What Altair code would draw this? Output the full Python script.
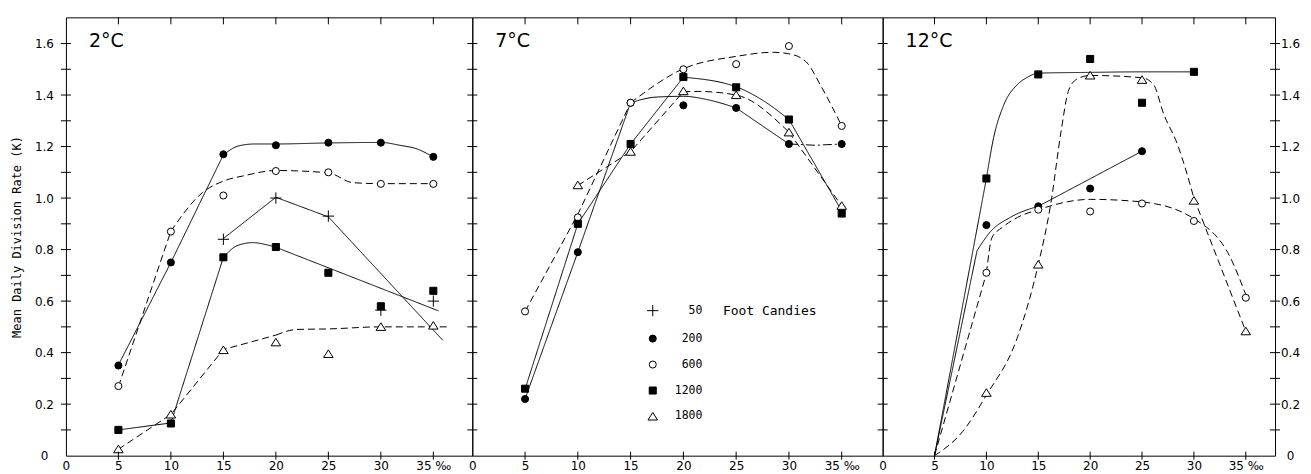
import altair as alt
import pandas as pd

FONT = "DejaVu Sans Mono"
FONT_TICK = "DejaVu Sans"
FONT_BIG = "DejaVu Sans"

SAL = [5, 10, 15, 20, 25, 30, 35]
FC = ["50", "200", "600", "1200", "1800"]
X_LABELS = [0, 5, 10, 15, 20, 25, 30, 35]
X_TICKS = [5, 10, 15, 20, 25, 30, 35]
Y_LABELS = [0, 0.2, 0.4, 0.6, 0.8, 1.0, 1.2, 1.4, 1.6]
Y_MINOR = [0.1, 0.2, 0.3, 0.4, 0.5, 0.6, 0.7, 0.8, 0.9, 1.0, 1.1, 1.2, 1.3, 1.4, 1.5, 1.6]
YMAX = 1.7016

# ---- measured points: 2 °C
T2_50 = [None, None, 0.84, 1.00, 0.93, 0.565, 0.60]
T2_200 = [0.35, 0.75, 1.17, 1.205, 1.215, 1.215, 1.16]
T2_600 = [0.27, 0.87, 1.01, 1.105, 1.10, 1.055, 1.055]
T2_1200 = [0.10, 0.125, 0.77, 0.81, 0.71, 0.58, 0.64]
T2_1800 = [0.025, 0.16, 0.41, 0.44, 0.395, 0.50, 0.505]
# ---- 7 °C
T7_200 = [0.22, 0.79, 1.37, 1.36, 1.35, 1.21, 1.21]
T7_600 = [0.56, 0.925, 1.37, 1.50, 1.52, 1.59, 1.28]
T7_1200 = [0.26, 0.90, 1.21, 1.47, 1.43, 1.305, 0.94]
T7_1800 = [None, 1.05, 1.18, 1.415, 1.40, 1.255, 0.97]
# ---- 12 °C
T12_200 = [None, 0.895, 0.968, 1.037, 1.182, None, None]
T12_600 = [None, 0.71, 0.955, 0.948, 0.979, 0.911, 0.613]
T12_1200 = [None, 1.076, 1.48, 1.54, 1.37, 1.49, None]
T12_1800 = [None, 0.244, 0.742, 1.476, 1.459, 0.99, 0.483]

# ---- hand-fitted curves: (series, dash, interpolation, xs, ys)
C2 = [
    ("50", "solid", "linear", [15, 20, 25, 35.9], [0.843, 1.003, 0.927, 0.448]),
    ("200", "solid", "linear", [5, 10, 15], [0.352, 0.75, 1.168]),
    ("200", "solid", "monotone", [15, 16.5, 18, 20, 25, 30, 31.8, 33.5, 35],
     [1.168, 1.203, 1.21, 1.21, 1.214, 1.216, 1.205, 1.19, 1.159]),
    ("600", "dashed", "linear", [5, 10], [0.268, 0.872]),
    ("600", "dashed", "monotone", [10, 13, 15, 17, 20, 25, 27.3, 30, 35],
     [0.872, 1.021, 1.066, 1.087, 1.107, 1.098, 1.06, 1.056, 1.056]),
    ("1200", "solid", "linear", [5, 10, 15], [0.10, 0.127, 0.77]),
    ("1200", "solid", "monotone", [15, 16.3, 17.8, 19, 20], [0.77, 0.815, 0.827, 0.82, 0.809]),
    ("1200", "solid", "linear", [20, 35.5], [0.809, 0.562]),
    ("1800", "dashed", "linear", [5, 10, 15, 20], [0.025, 0.16, 0.412, 0.468]),
    ("1800", "dashed", "monotone", [20, 22, 25, 30, 36.3], [0.468, 0.49, 0.492, 0.50, 0.50]),
]
C7 = [
    ("200", "solid", "linear", [5, 10, 15], [0.22, 0.79, 1.37]),
    ("200", "solid", "monotone", [15, 17.4, 20, 22.5, 25], [1.37, 1.392, 1.395, 1.38, 1.35]),
    ("200", "solid", "linear", [25, 30], [1.35, 1.21]),
    ("200", "dashdot", "linear", [30, 32.5, 35], [1.21, 1.205, 1.21]),
    ("600", "dashed", "linear", [5, 10, 15], [0.56, 0.937, 1.37]),
    ("600", "dashed", "monotone", [15, 20, 25, 28.5, 30, 31.6, 33.1, 35],
     [1.37, 1.502, 1.55, 1.566, 1.56, 1.53, 1.43, 1.28]),
    ("1200", "solid", "linear", [5, 10, 15, 20], [0.258, 0.90, 1.21, 1.469]),
    ("1200", "solid", "monotone", [20, 25, 27.5, 30], [1.469, 1.432, 1.38, 1.305]),
    ("1200", "solid", "linear", [30, 35], [1.305, 0.95]),
    ("1800", "dashed", "linear", [10, 15, 20], [1.049, 1.18, 1.413]),
    ("1800", "dashed", "monotone", [20, 21.4, 25, 30], [1.413, 1.414, 1.40, 1.256]),
    ("1800", "dashed", "linear", [30, 35], [1.256, 0.97]),
]
C12 = [
    ("1200", "solid", "linear", [5, 10], [0.0, 1.076]),
    ("1200", "solid", "monotone", [10, 10.7, 11.7, 13, 14, 15, 20, 25, 30],
     [1.076, 1.235, 1.364, 1.441, 1.47, 1.485, 1.488, 1.49, 1.49]),
    ("200", "solid", "linear", [5, 9.1], [0.0, 0.796]),
    ("200", "solid", "monotone", [9.1, 10.4, 12.3, 15], [0.796, 0.87, 0.925, 0.968]),
    ("200", "solid", "linear", [15, 25], [0.968, 1.182]),
    ("600", "dashed", "linear", [5, 10], [0.0, 0.708]),
    ("600", "dashed", "monotone", [10, 10.55, 11.5, 13, 15, 20, 25, 30, 33.5, 35],
     [0.708, 0.848, 0.885, 0.925, 0.955, 0.995, 0.985, 0.92, 0.77, 0.625]),
    ("1800", "dashed", "monotone",
     [5, 7.7, 10, 13, 15, 16.2, 17.2, 17.9, 18.7, 20, 25, 26.1, 27.1, 28.4, 30],
     [0.0, 0.093, 0.235, 0.46, 0.742, 0.977, 1.26, 1.415, 1.461, 1.476, 1.467, 1.441, 1.325, 1.21, 1.0]),
    ("1800", "dashed", "linear", [30, 35], [1.0, 0.483]),
]

PLUS = "M-1.6,0L1.6,0M0,-1.6L0,1.6"
TRIANGLE = "M0,-1.15L1.35,1.0L-1.35,1.0Z"


def points_df(series):
    rows = []
    for fc, ys in series.items():
        for x, y in zip(SAL, ys):
            if y is not None:
                rows.append({"x": x, "y": y, "fc": fc})
    return pd.DataFrame(rows)


def curves_df(curves):
    rows = []
    for i, (fc, dash, interp, xs, ys) in enumerate(curves):
        for x, y in zip(xs, ys):
            rows.append({"seg": f"{fc}-{i}", "dash": dash, "interp": interp, "x": x, "y": y})
    return pd.DataFrame(rows)


H = 439
LEG = alt.Legend(
    orient="none", legendX=175, legendY=288, title="Foot Candies",
    titleOrient="right", titleAnchor="start", titleBaseline="top", titlePadding=20,
    titleFont=FONT, titleFontSize=13, titleFontWeight="normal", titleColor="black",
    labelFont=FONT, labelFontSize=11.5, labelColor="black", labelAlign="right", labelOffset=44,
    rowPadding=13, symbolStrokeColor="black", symbolStrokeWidth=1, symbolSize=50, padding=0,
)


def panel(pts, segs, width, xmax, label, yaxis_mode, legend):
    xs = alt.Scale(domain=[0, xmax], nice=False, zero=False)
    ys = alt.Scale(domain=[0, YMAX], nice=False, zero=False)
    xaxis = alt.Axis(values=X_LABELS, labelExpr="datum.value == 35 ? '35 ‰' : datum.label",
                     ticks=False, tickSize=0, domain=False, grid=False, labelPadding=5,
                     labelFlush=False, labelFont=FONT_TICK, labelFontSize=12, labelColor="black",
                     title="")
    yexpr = "datum.value == 0 ? '0' : format(datum.value, '.1f')"
    if yaxis_mode == "left":
        yaxis = alt.Axis(orient="left", values=Y_LABELS, labelExpr=yexpr, labelAlign="center",
                         labelPadding=22, ticks=False, tickSize=0, domain=False, grid=False,
                         labelFont=FONT_TICK, labelFontSize=12, labelColor="black",
                         title="Mean Daily Division Rate  (K)", titlePadding=11,
                         titleFont=FONT, titleFontSize=12, titleFontWeight="normal",
                         titleColor="black")
    elif yaxis_mode == "right":
        yaxis = alt.Axis(orient="right", values=Y_LABELS, labelExpr=yexpr, labelAlign="center",
                         labelPadding=15, ticks=False, tickSize=0, domain=False, grid=False,
                         labelFont=FONT_TICK, labelFontSize=12, labelColor="black", title="")
    else:
        yaxis = None

    def X(f="x"):
        return alt.X(f"{f}:Q", scale=xs, axis=xaxis)

    def Y(f="y"):
        if yaxis is None:
            return alt.Y(f"{f}:Q", scale=ys, axis=None)
        return alt.Y(f"{f}:Q", scale=ys, axis=yaxis)

    dash = alt.StrokeDash("dash:N", scale=alt.Scale(domain=["solid", "dashed", "dashdot"],
                                                    range=[[1, 0], [7, 4], [9, 3, 2, 3]]),
                          legend=None)
    base_line = alt.Chart(segs)
    lin = base_line.transform_filter("datum.interp == 'linear'").mark_line(
        color="black", strokeWidth=1, interpolate="linear").encode(
        x=X(), y=Y(), detail="seg:N", strokeDash=dash)
    mono = base_line.transform_filter("datum.interp == 'monotone'").mark_line(
        color="black", strokeWidth=1, interpolate="monotone").encode(
        x=X(), y=Y(), detail="seg:N", strokeDash=dash)

    leg = legend if legend else None
    shape = alt.Shape("fc:N", sort=FC, scale=alt.Scale(domain=FC, range=[PLUS, "circle", "circle", "square", TRIANGLE]),
                      legend=leg)
    fill = alt.Fill("fc:N", sort=FC, scale=alt.Scale(domain=FC, range=["black", "black", "white", "black", "white"]),
                    legend=leg)
    stroke = alt.Stroke("fc:N", sort=FC, scale=alt.Scale(domain=FC, range=["black"] * 5), legend=leg)
    pts_l = alt.Chart(pts).mark_point(filled=True, strokeWidth=1, size=50, opacity=1).encode(
        x=X(), y=Y(), shape=shape, fill=fill, stroke=stroke)

    ydf = pd.DataFrame({"v": Y_MINOR})
    xdf = pd.DataFrame({"v": X_TICKS})
    ytl = alt.Chart(ydf).mark_rule(color="black", strokeWidth=1).encode(
        y=Y("v"), x=alt.value(-5), x2=alt.value(5))
    xtb = alt.Chart(xdf).mark_rule(color="black", strokeWidth=1).encode(
        x=X("v"), y=alt.value(H - 4), y2=alt.value(H + 4))
    xtt = alt.Chart(xdf).mark_rule(color="black", strokeWidth=1).encode(
        x=X("v"), y=alt.value(0), y2=alt.value(7))
    layers = [lin, mono, pts_l, ytl, xtb, xtt]
    if yaxis_mode == "right":
        ytr = alt.Chart(ydf).mark_rule(color="black", strokeWidth=1).encode(
            y=Y("v"), x=alt.value(width - 5), x2=alt.value(width + 5))
        layers.append(ytr)
    txt = alt.Chart(pd.DataFrame({"t": [label]})).mark_text(
        align="left", baseline="alphabetic", font=FONT_BIG, fontSize=19, color="black").encode(
        text="t:N", x=alt.value(23), y=alt.value(30))
    layers.append(txt)
    return alt.layer(*layers).properties(width=width, height=H)


p1 = panel(points_df({"50": T2_50, "200": T2_200, "600": T2_600, "1200": T2_1200, "1800": T2_1800}),
           curves_df(C2), 407, 38.71, "2°C", "left", None)
p2 = panel(points_df({"200": T7_200, "600": T7_600, "1200": T7_1200, "1800": T7_1800}),
           curves_df(C7), 411, 38.88, "7°C", "none", LEG)
p3 = panel(points_df({"200": T12_200, "600": T12_600, "1200": T12_1200, "1800": T12_1800}),
           curves_df(C12), 393, 37.82, "12°C", "right", None)

chart = alt.hconcat(p1, p2, p3, spacing=0, bounds="flush").resolve_legend(
    shape="independent", fill="independent", stroke="independent").configure_view(
    stroke="black", strokeWidth=1).properties(
    padding={"left": 1, "top": 8, "right": 2, "bottom": 0})

chart.save("out.html", embed_options={"renderer": "svg", "actions": False})
